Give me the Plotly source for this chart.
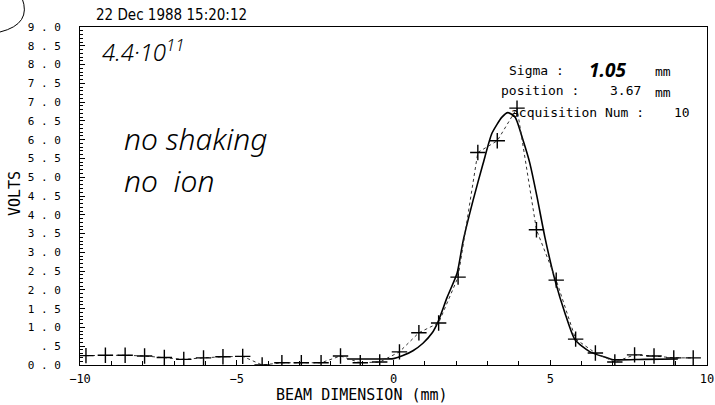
import plotly.graph_objects as go

# ---------------- data ----------------
x_meas = [-9.81, -9.19, -8.56, -7.94, -7.31, -6.69, -6.06, -5.44, -4.81, -4.19,
          -3.56, -2.94, -2.31, -1.69, -1.06, -0.44, 0.19, 0.81, 1.44, 2.06,
          2.69, 3.31, 3.94, 4.56, 5.19, 5.81, 6.44, 7.06, 7.69, 8.31, 8.94, 9.56]
v_meas = [0.25, 0.26, 0.26, 0.24, 0.20, 0.15, 0.19, 0.22, 0.23, 0.00,
          0.06, 0.06, 0.06, 0.24, 0.06, 0.08, 0.35, 0.86, 1.12, 2.34,
          5.66, 5.97, 6.84, 3.60, 2.26, 0.69, 0.32, 0.08, 0.27, 0.24, 0.19, 0.19]

x_fit = [-1.48, -1.0, -0.5, 0.0, 0.30, 0.62, 0.94, 1.23, 1.42, 1.71, 2.03, 2.22,
         2.54, 2.86, 3.14, 3.46, 3.65, 3.88, 4.13, 4.35, 4.58, 4.83, 5.15, 5.47,
         5.79, 6.27, 6.81, 7.0, 8.0, 9.07]
v_fit = [0.16, 0.16, 0.16, 0.17, 0.25, 0.38, 0.58, 0.85, 1.15, 1.80, 2.45, 3.30,
         4.39, 5.37, 6.17, 6.60, 6.72, 6.60, 5.99, 5.37, 4.47, 3.40, 2.26, 1.38,
         0.67, 0.35, 0.19, 0.14, 0.15, 0.16]

x_tick_vals = [-10, -5, 0, 5, 10]
x_tick_text = ["\u221210", "\u22125", "0", "5", "10"]
y_tick_vals = [0, 0.5, 1, 1.5, 2, 2.5, 3, 3.5, 4, 4.5, 5, 5.5, 6, 6.5, 7, 7.5, 8, 8.5, 9]
y_tick_text = ["0 . 0", "  . 5", "1 . 0", "1 . 5", "2 . 0", "2 . 5", "3 . 0", "3 . 5",
               "4 . 0", "4 . 5", "5 . 0", "5 . 5", "6 . 0", "6 . 5", "7 . 0", "7 . 5",
               "8 . 0", "8 . 5", "9 . 0"]

date_text = "22 Dec 1988 15:20:12"
sigma_val = "1.05"
position_val = "3.67"
acq_num = "10"

MONO = "DejaVu Sans Mono"
HAND = "Noto Sans"

# plot frame in pixels
L, R, T, B = 80, 8, 27, 40
W, H = 715, 405
PW, PH = W - L - R, H - T - B


def px(xp):
    return (xp - L) / PW


def py(yp):
    return (H - B - yp) / PH


fig = go.Figure()

fig.add_trace(go.Scatter(
    x=x_fit, y=v_fit, mode="lines",
    line=dict(color="black", width=1.6, shape="spline", smoothing=0.6),
    hoverinfo="skip", showlegend=False))

fig.add_trace(go.Scatter(
    x=x_meas, y=v_meas, mode="lines+markers",
    line=dict(color="#333333", width=1, dash="dot"),
    marker=dict(symbol="cross-thin", size=11, color="black",
                line=dict(width=1.4, color="black")),
    showlegend=False))

annotations = [
    dict(text=date_text, x=px(171), y=py(15), xanchor="center", yanchor="middle",
         font=dict(family="Liberation Sans Narrow, DejaVu Sans Condensed, Liberation Sans",
                   size=15, color="black")),
    dict(text="4.4\u00b710<sup>11</sup>", x=px(100), y=py(50), xanchor="left", yanchor="middle",
         font=dict(family=HAND, size=24, color="black", style="italic", weight=300)),
    dict(text="no shaking", x=px(122), y=py(138), xanchor="left", yanchor="middle",
         font=dict(family=HAND, size=30, color="black", style="italic", weight=300)),
    dict(text="no  ion", x=px(122), y=py(180), xanchor="left", yanchor="middle",
         font=dict(family=HAND, size=30, color="black", style="italic", weight=300)),
    # right info block
    dict(text="Sigma :", x=px(566), y=py(70), xanchor="right", yanchor="middle",
         font=dict(family=MONO, size=13, color="black")),
    dict(text=sigma_val, x=px(607), y=py(70), xanchor="center", yanchor="middle",
         font=dict(family=HAND, size=19, color="black", style="italic", weight=700)),
    dict(text="mm", x=px(663), y=py(71), xanchor="center", yanchor="middle",
         font=dict(family=MONO, size=13, color="black")),
    dict(text="position :", x=px(581), y=py(91), xanchor="right", yanchor="middle",
         font=dict(family=MONO, size=13, color="black")),
    dict(text=position_val, x=px(625), y=py(91), xanchor="center", yanchor="middle",
         font=dict(family=MONO, size=13, color="black")),
    dict(text="mm", x=px(663), y=py(92), xanchor="center", yanchor="middle",
         font=dict(family=MONO, size=13, color="black")),
    dict(text="acquisition Num :", x=px(646), y=py(113), xanchor="right", yanchor="middle",
         font=dict(family=MONO, size=13, color="black")),
    dict(text=acq_num, x=px(682), y=py(113), xanchor="center", yanchor="middle",
         font=dict(family=MONO, size=13, color="black")),
    # axis titles
    dict(text="VOLTS", x=px(15), y=py(194), xanchor="center", yanchor="middle",
         textangle=-90, font=dict(family=MONO, size=15, color="black")),
    dict(text="BEAM DIMENSION (mm)", x=px(362), y=py(405), xanchor="center", yanchor="bottom",
         borderpad=0, font=dict(family=MONO, size=15, color="black")),
]
for a in annotations:
    a.update(xref="paper", yref="paper", showarrow=False)

fig.update_layout(
    width=W, height=H,
    margin=dict(l=L, r=R, t=T, b=B, pad=0, autoexpand=False),
    paper_bgcolor="white", plot_bgcolor="white",
    annotations=annotations,
    shapes=[dict(type="path", xref="paper", yref="paper",
                 path=f"M {px(0)},{py(32)} Q {px(32)},{py(24)} {px(22)},{py(-2)}",
                 line=dict(color="black", width=1))],
    showlegend=False,
)

fig.update_xaxes(
    range=[-10, 10], showgrid=False, zeroline=False, automargin=False,
    showline=True, linecolor="black", linewidth=1, mirror=True,
    ticks="inside", ticklen=5, tickcolor="black", tickwidth=1,
    tickvals=x_tick_vals, ticktext=x_tick_text,
    tickfont=dict(family=MONO, size=12, color="black"),
    ticklabelstandoff=3,
    minor=dict(dtick=1, ticks="inside", ticklen=4, tickcolor="black", showgrid=False),
)
fig.update_yaxes(
    range=[0, 9], showgrid=False, zeroline=False, automargin=False,
    showline=True, linecolor="black", linewidth=1, mirror=True,
    ticks="inside", ticklen=5, tickcolor="black", tickwidth=1,
    tickvals=y_tick_vals, ticktext=y_tick_text,
    tickfont=dict(family=MONO, size=11, color="black"),
    ticklabelstandoff=16,
    minor=dict(dtick=0.1, ticks="inside", ticklen=3, tickcolor="black", showgrid=False),
)

fig.write_html("out.html")
